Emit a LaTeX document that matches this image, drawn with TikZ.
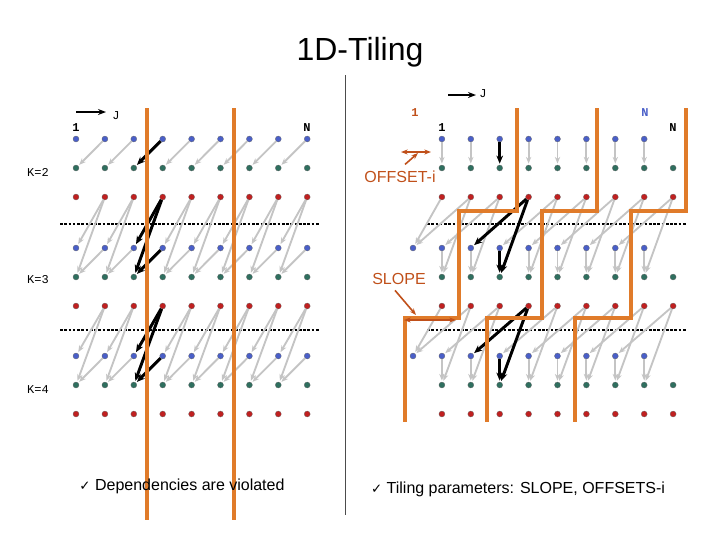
\documentclass[tikz,border=0pt]{standalone}
\usepackage{fontspec}
\setmainfont{Liberation Sans}
\newfontfamily\monof{Liberation Mono}
\newfontfamily\dejav{DejaVu Sans}
\usetikzlibrary{arrows.meta}
\definecolor{bdot}{HTML}{4A5FC8}
\definecolor{gdot}{HTML}{2F6F5F}
\definecolor{rdot}{HTML}{C02020}
\definecolor{orng}{HTML}{E07B2A}
\definecolor{brn}{HTML}{C0501A}
\definecolor{garr}{HTML}{C4C4C4}
\begin{document}
\begin{tikzpicture}[x=0.75pt,y=-0.75pt,
  dot/.style={circle,inner sep=0pt,minimum size=4.5pt,draw=black!60,line width=0.2pt},
  bd/.style={dot,fill=bdot}, gd/.style={dot,fill=gdot}, rd/.style={dot,fill=rdot},
  ga/.style={garr,line width=1.4pt,-{Stealth[length=5pt,width=4pt]},shorten >=1pt},
  ba/.style={black,line width=2.2pt,-{Stealth[length=6pt,width=5pt]},shorten >=1pt},
  tile/.style={orng,line width=2.8pt},
  dotl/.style={black,line width=1.8pt,dash pattern=on 2pt off 1.2pt},
  lab/.style={font=\monof\bfseries\small},
  ann/.style={brn,font=\large}]
\useasboundingbox (0,0) rectangle (720,540);
\node (title) at (360,52) {\fontsize{24}{28}\selectfont 1D-Tiling};
\draw[black!70,line width=0.6pt] (345,75) -- (345,515);
% ---------- LEFT PANEL ----------
\foreach \c in {1,...,9}{
  \pgfmathsetmacro{\xx}{76+28.9*(\c-1)}
  \node[bd] (Lb1\c) at (\xx,139) {}; \node[gd] (Lg1\c) at (\xx,168) {}; \node[rd] (Lr1\c) at (\xx,197) {};
  \node[bd] (Lb2\c) at (\xx,248) {}; \node[gd] (Lg2\c) at (\xx,277) {}; \node[rd] (Lr2\c) at (\xx,306) {};
  \node[bd] (Lb3\c) at (\xx,356) {}; \node[gd] (Lg3\c) at (\xx,385) {}; \node[rd] (Lr3\c) at (\xx,414) {};
}
\draw[dotl] (60,224) -- (320,224);
\draw[dotl] (60,330) -- (320,330);
\foreach \c [evaluate=\c as \p using int(\c-1)] in {2,...,9}{
  \draw[ga] (Lb1\c) -- (Lg1\p);
  \draw[ga] (Lr1\c) -- (Lb2\p); \draw[ga] (Lr1\c) -- (Lg2\p); \draw[ga] (Lb2\c) -- (Lg2\p);
  \draw[ga] (Lr2\c) -- (Lb3\p); \draw[ga] (Lr2\c) -- (Lg3\p); \draw[ga] (Lb3\c) -- (Lg3\p);
}
\draw[ba] (Lb14) -- (Lg13);
\draw[ba] (Lr14) -- (Lb23); \draw[ba] (Lr14) -- (Lg23); \draw[ba] (Lb24) -- (Lg23);
\draw[ba] (Lr24) -- (Lb33); \draw[ba] (Lr24) -- (Lg33); \draw[ba] (Lb34) -- (Lg33);
\draw[tile] (147,108) -- (147,520);
\draw[tile] (234,108) -- (234,520);
\coordinate (ja) at (76,112); \coordinate (jb) at (106,112);
\draw[black,line width=1.5pt,-{Stealth[length=6pt]}] (ja) -- (jb);
\node[lab,font=\monof\small] (lj) at (116,116) {J};
\node[lab] (l1) at (76,128) {1};
\node[lab] (lN) at (307,128) {N};
\node[lab,font=\monof\small] (k2) at (38,172) {K=2};
\node[lab,font=\monof\small] (k3) at (38,280) {K=3};
\node[lab,font=\monof\small] (k4) at (38,390) {K=4};
% ---------- RIGHT PANEL ----------
\foreach \c in {0,...,9}{
  \pgfmathsetmacro{\xx}{413+28.9*\c}
  \ifnum\c>0
    \node[gd] (Rg1\c) at (\xx,168) {}; \node[rd] (Rr1\c) at (\xx,197) {};
    \node[gd] (Rg2\c) at (\xx,277) {}; \node[rd] (Rr2\c) at (\xx,306) {};
    \node[gd] (Rg3\c) at (\xx,385) {}; \node[rd] (Rr3\c) at (\xx,414) {};
  \fi
  \ifnum\c<9
    \node[bd] (Rb2\c) at (\xx,248) {}; \node[bd] (Rb3\c) at (\xx,356) {};
    \ifnum\c>0 \node[bd] (Rb1\c) at (\xx,139) {}; \fi
  \fi
}
\draw[dotl] (427,224) -- (687,224);
\draw[dotl] (427,330) -- (687,330);
\foreach \c in {1,...,8}{ \draw[ga] (Rb1\c) -- (Rg1\c); \draw[ga] (Rb2\c) -- (Rg2\c); \draw[ga] (Rb3\c) -- (Rg3\c); }
\draw[ga] (Rr11) -- (Rb20); \draw[ga] (Rr21) -- (Rb30);
\foreach \c [evaluate=\c as \p using int(\c-1), evaluate=\c as \q using int(\c-2)] in {2,...,9}{
  \draw[ga] (Rr1\c) -- (Rb2\q); \draw[ga] (Rr1\c) -- (Rg2\p);
  \draw[ga] (Rr2\c) -- (Rb3\q); \draw[ga] (Rr2\c) -- (Rg3\p);
}
\draw[ba] (Rb13) -- (Rg13);
\draw[ba] (Rr14) -- (Rb22); \draw[ba] (Rr14) -- (Rg23); \draw[ba] (Rb23) -- (Rg23);
\draw[ba] (Rr24) -- (Rb32); \draw[ba] (Rr24) -- (Rg33); \draw[ba] (Rb33) -- (Rg33);
\draw[tile] (517,108) -- (517,211) -- (459,211) -- (459,318) -- (405,318) -- (405,422);
\draw[tile] (597,108) -- (597,211) -- (542,211) -- (542,318) -- (487,318) -- (487,422);
\draw[tile] (686,108) -- (686,211) -- (631,211) -- (631,318) -- (575,318) -- (575,422);
\coordinate (rja) at (448,95); \coordinate (rjb) at (476,95);
\draw[black,line width=1.5pt,-{Stealth[length=6pt]}] (rja) -- (rjb);
\node[lab,font=\monof\small] (rj) at (483,94) {J};
\node[lab,text=brn] (r1o) at (415,113) {1};
\node[lab,text=bdot] (rNb) at (645,113) {N};
\node[lab] (r1) at (442,128) {1};
\node[lab] (rN) at (673,128) {N};
\node[ann] (off) at (400,177) {OFFSET-i};
\coordinate (oa) at (401,152); \coordinate (ob) at (431,152);
\draw[brn,line width=1.2pt,{Stealth[length=5pt]}-{Stealth[length=5pt]}] (oa) -- (ob);
\coordinate (ot) at (418,153);
\draw[brn,line width=1.2pt,-{Stealth[length=5pt]}] (off.north) ++(5,-2) -- (ot);
\node[ann] (slope) at (399,279) {SLOPE};
\coordinate (sa) at (404,320); \coordinate (sb) at (456,320);
\draw[brn,line width=1.2pt,{Stealth[length=5pt]}-{Stealth[length=5pt]}] (sa) -- (sb);
\coordinate (st) at (416,315);
\draw[brn,line width=1.2pt,-{Stealth[length=5pt]}] (slope.south) ++(-4,1) -- (st);
\node[font=\large] (c1) at (182,486) {{\dejav\normalsize ✓} Dependencies are violated};
\node[font=\large] (c2) at (518,489) {{\dejav\normalsize ✓} Tiling parameters: SLOPE, OFFSETS-i};
\end{tikzpicture}
\end{document}
